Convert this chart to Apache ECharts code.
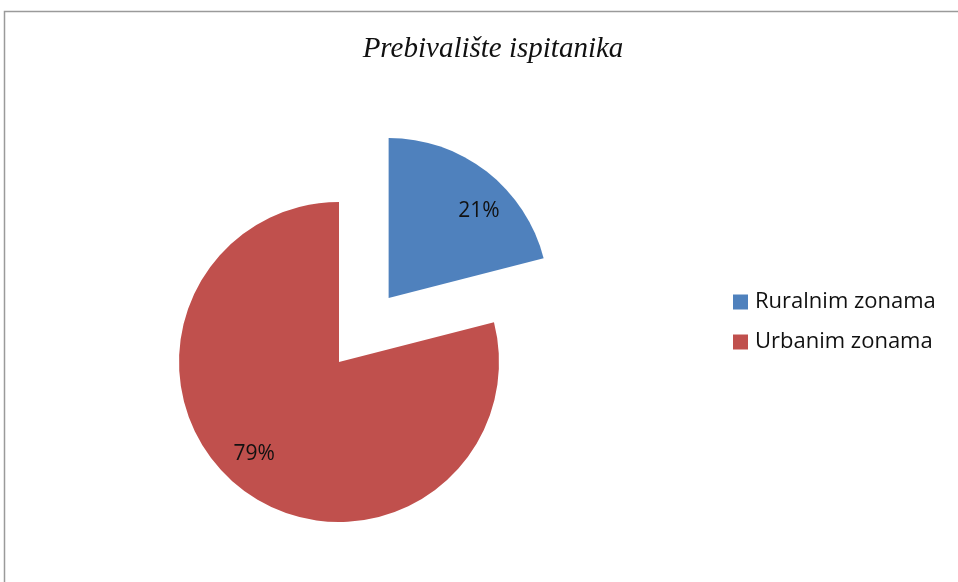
<!DOCTYPE html>
<html>
<head>
<meta charset="utf-8">
<script src="https://cdn.jsdelivr.net/npm/echarts@6/dist/echarts.min.js"></script>
<style>
  html, body { margin: 0; padding: 0; background: #fff; }
  #root { width: 958px; height: 582px; }
</style>
</head>
<body>
<div id="root"></div>
<script>
// 数据
var categories = ['Ruralnim zonama', 'Urbanim zonama'];
var values = [21, 79];
var colors = ['#4F81BD', '#C0504D'];

var pieData = [];
var labelData = [];
for (var i = 0; i < categories.length; i++) {
    pieData.push({
        name: categories[i],
        value: values[i],
        selected: i == 0,
        itemStyle: { color: colors[i] }
    });
    labelData.push({
        name: categories[i],
        value: values[i],
        selected: i == 0,
        itemStyle: { color: 'rgba(0,0,0,0)' }
    });
}

var myChart = echarts.init(document.getElementById('root'));
var option = {
    animation: false,
    title: {
        text: 'Prebivalište ispitanika',
        left: 488,
        top: 30,
        textAlign: 'center',
        textStyle: {
            fontFamily: 'Liberation Serif',
            fontStyle: 'italic',
            fontWeight: 'normal',
            fontSize: 29,
            color: '#111'
        }
    },
    legend: {
        data: categories,
        orient: 'vertical',
        left: 728,
        top: 286,
        itemWidth: 15,
        itemHeight: 15,
        itemGap: 18,
        icon: 'rect',
        textStyle: {
            fontFamily: 'Open Sans',
            fontSize: 22,
            color: '#111',
            padding: [0, 0, 0, 2]
        }
    },
    graphic: [{
        type: 'rect',
        silent: true,
        shape: { x: 4.5, y: 11.5, width: 1200, height: 1000 },
        style: { fill: 'none', stroke: '#9a9a9a', lineWidth: 1.5 }
    }],
    series: [{
        type: 'pie',
        center: [339, 362],
        radius: 160,
        startAngle: 90,
        clockwise: true,
        selectedMode: 'single',
        selectedOffset: 81,
        silent: true,
        label: { show: false },
        labelLine: { show: false },
        data: pieData
    }, {
        // 只用来放标签的透明环
        type: 'pie',
        center: [339, 362],
        radius: [84, 160],
        startAngle: 85,
        clockwise: true,
        selectedMode: 'single',
        selectedOffset: 81,
        silent: true,
        legendHoverLink: false,
        label: {
            show: true,
            position: 'inside',
            formatter: '{d}%',
            fontFamily: 'Open Sans',
            fontSize: 21,
            color: '#111'
        },
        labelLine: { show: false },
        data: labelData
    }]
};
myChart.setOption(option);
</script>
</body>
</html>
